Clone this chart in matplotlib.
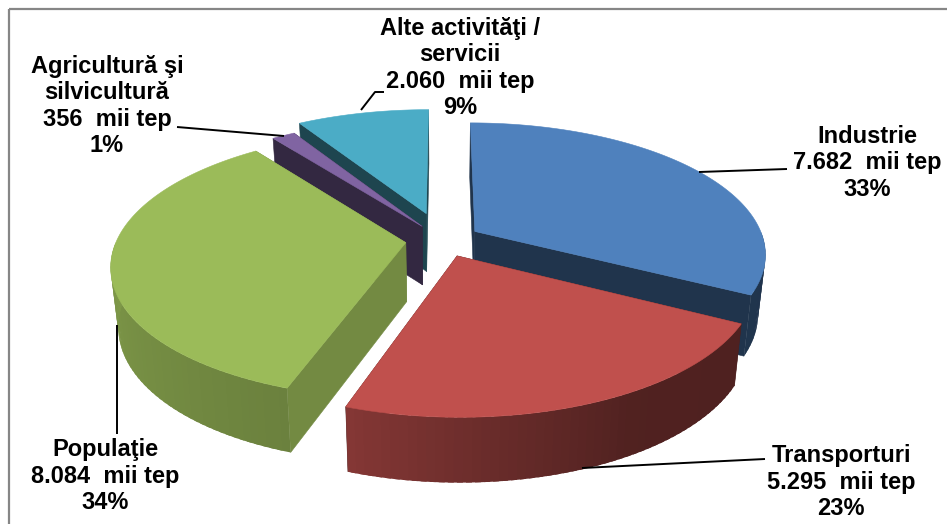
import numpy as np
import matplotlib
matplotlib.use("Agg")
import matplotlib.pyplot as plt
from matplotlib.patches import Polygon, Rectangle

plt.rcParams['font.family'] = ['Liberation Sans', 'DejaVu Sans']

# ---- data (clockwise from 12 o'clock)
categories = ["Industrie", "Transporturi", "Populaţie", "Agricultură şi\nsilvicultură", "Alte activităţi /\nservicii"]
values = [7682, 5295, 8084, 356, 2060]
value_labels = ["7.682  mii tep", "5.295  mii tep", "8.084  mii tep", "356  mii tep", "2.060  mii tep"]
percent_labels = ["33%", "23%", "34%", "1%", "9%"]

# ---- style
colors = ["#4f81bd", "#c0504d", "#9bbb59", "#8064a2", "#4bacc6"]
explode = [0.13, 0.13, 0.13, 0.13, 0.22]
wall_shade = [0.40, 0.40, 0.74, 0.40, 0.40]
draw_order = [4, 3, 0, 2, 1]
label_pos = [(867, 163), (841, 482), (105, 476), (107, 106), (460, 68)]
leaders = [[(699, 172), (787, 169)],
           [(582, 468), (765, 459)],
           [(117, 325), (117, 434)],
           [(177, 127), (284, 136)],
           [(361, 110), (375, 92), (384, 92)]]

CX, CY, A, B, K, H, TAPER = 443.0, 240.0, 289.0, 129.0, 0.1645, 59.0, 0.977


def project(X, Y):
    f = 1.0 / (1.0 + K * Y)
    return CX + A * X * f, CY - B * Y * f, f


def top(X, Y):
    x, y, _ = project(X, Y)
    return x, y


def low(X, Y):
    x, y, f = project(X, Y)
    return CX + (x - CX) * TAPER, y + H * np.sqrt(f)


def rim_shade(deg):
    return np.interp(deg, [90, 150, 175, 199, 230, 270, 330],
                     [0.40, 0.42, 0.55, 0.69, 0.75, 0.82, 0.82])


def shaded(color, s):
    return tuple(c * s for c in matplotlib.colors.to_rgb(color))


fig = plt.figure(figsize=(9.47, 5.24), dpi=100, facecolor="white")
ax = fig.add_axes([0, 0, 1, 1])
ax.set_xlim(0, 947)
ax.set_ylim(524, 0)
ax.axis("off")

ax.add_patch(Rectangle((8.5, 8.5), 1200, 1200, fill=False, ec="#868686", lw=1.6))

vals = np.array(values, dtype=float)
bounds = np.concatenate([[0], np.cumsum(vals)]) / vals.sum() * 360.0

for i in draw_order:
    a0, a1 = bounds[i], bounds[i + 1]
    mid = np.radians((a0 + a1) / 2)
    ox, oy = explode[i] * np.sin(mid), explode[i] * np.cos(mid)
    fine = np.radians(np.linspace(a0, a1, max(int(a1 - a0) * 2, 6)))
    Xs, Ys = ox + np.sin(fine), oy + np.cos(fine)

    # radial walls
    for (X, Y) in ((Xs[0], Ys[0]), (Xs[-1], Ys[-1])):
        pts = [top(ox, oy), top(X, Y), low(X, Y), low(ox, oy)]
        col = shaded(colors[i], wall_shade[i])
        ax.add_patch(Polygon(pts, closed=True, fc=col, ec=col, lw=0.4))

    # rim: only its front half shows; overlapping bands hide the seams
    front0, front1 = max(a0, 90.0), min(a1, 270.0)
    if front1 > front0:
        edges = np.radians(np.linspace(front0, front1, max(int((front1 - front0) / 1.5), 2) + 1))
        for j in range(len(edges) - 1):
            end = min(edges[j + 1] + np.radians(1.0), np.radians(front1))
            tt = np.linspace(edges[j], end, 5)
            X, Y = ox + np.sin(tt), oy + np.cos(tt)
            pts = [top(a, b) for a, b in zip(X, Y)] + [low(a, b) for a, b in zip(X[::-1], Y[::-1])]
            col = shaded(colors[i], rim_shade(np.degrees((edges[j] + edges[j + 1]) / 2)))
            ax.add_patch(Polygon(pts, closed=True, fc=col, ec="none", lw=0))

    face = [top(ox, oy)] + [top(X, Y) for X, Y in zip(Xs, Ys)]
    ax.add_patch(Polygon(face, closed=True, fc=colors[i], ec=colors[i], lw=0.4))

for path in leaders:
    ax.plot(*zip(*path), color="black", lw=1.4, solid_capstyle="butt")

for i in range(len(values)):
    txt = f"{categories[i]}\n{value_labels[i]}\n{percent_labels[i]}"
    ax.text(*label_pos[i], txt, ha="center", va="center", ma="center",
            fontsize=17, fontweight="bold", color="black", linespacing=1.2)

fig.savefig("out.png", dpi=100, facecolor="white")
